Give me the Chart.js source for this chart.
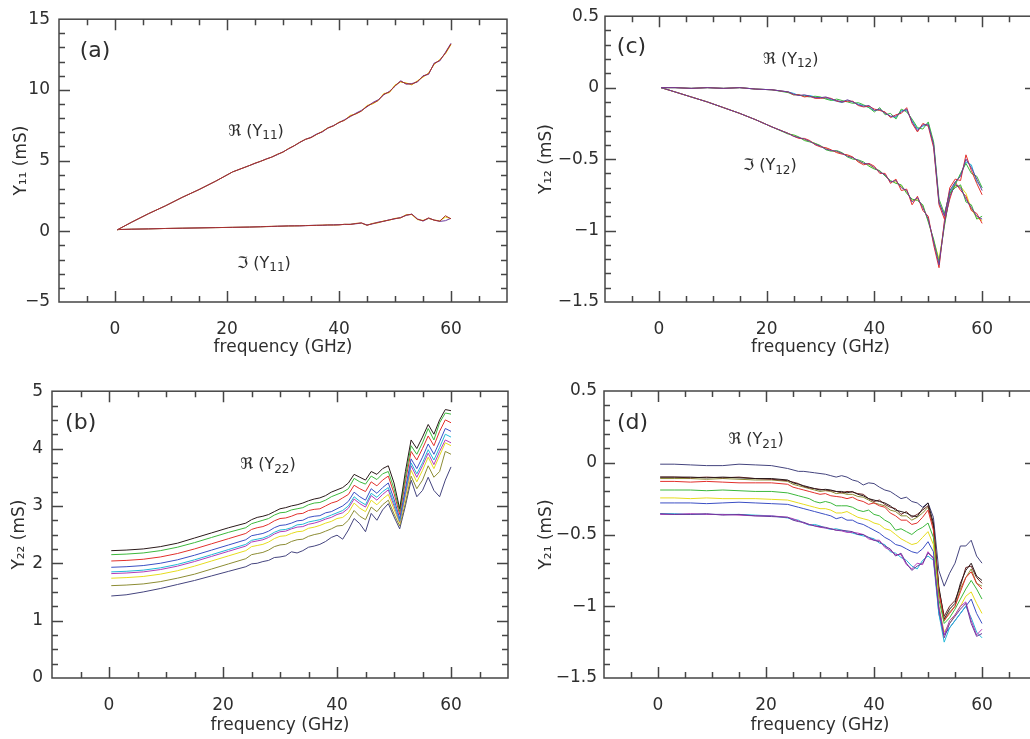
<!DOCTYPE html>
<html>
<head>
<meta charset="utf-8">
<script src="https://cdn.jsdelivr.net/npm/chart.js@4.4.1/dist/chart.umd.min.js"></script>
<style>
  html, body { margin: 0; padding: 0; background: #fff; overflow: hidden; width: 1030px; height: 739px; }
  canvas { position: absolute; }
</style>
</head>
<body>
<canvas id="chartA" width="515" height="365" style="left:0;top:0"></canvas>
<canvas id="chartC" width="530" height="365" style="left:515px;top:0"></canvas>
<canvas id="chartB" width="515" height="367" style="left:0;top:372px"></canvas>
<canvas id="chartD" width="530" height="367" style="left:515px;top:372px"></canvas>
<script>
// frequency samples (GHz), shared by every curve
const FREQ = [0.4, 3, 6, 9, 12, 15, 18, 21,
  24, 25, 26, 27, 28, 29, 30, 31, 32, 33, 34, 35, 36, 37, 38, 39,
  40, 41, 42, 43, 44, 45, 46, 47, 48, 49, 50, 51, 52, 53, 54, 55, 56, 57, 58, 59, 60];
const X_TICKS = [0, 20, 40, 60];

// (a) Y11
const a_re_red = [0.1, 0.65, 1.25, 1.8, 2.4, 2.95, 3.55, 4.2,
  4.65, 4.82, 4.95, 5.1, 5.25, 5.45, 5.6, 5.85, 6.05, 6.3, 6.5, 6.62, 6.85, 7.05, 7.3, 7.45,
  7.7, 7.85, 8.15, 8.3, 8.5, 8.85, 9.05, 9.25, 9.7, 9.85, 10.3, 10.6, 10.45, 10.4, 10.6, 10.95, 11.15, 11.85, 12.1, 12.6, 13.25];
const a_re_purple = [0.1, 0.65, 1.25, 1.8, 2.4, 2.95, 3.55, 4.2,
  4.65, 4.8, 4.95, 5.12, 5.25, 5.42, 5.62, 5.83, 6.05, 6.28, 6.5, 6.65, 6.88, 7.02, 7.3, 7.48,
  7.68, 7.9, 8.1, 8.35, 8.55, 8.8, 9.1, 9.3, 9.65, 9.9, 10.25, 10.65, 10.4, 10.45, 10.55, 11.0, 11.1, 11.9, 12.05, 12.65, 13.3];
const a_re_yellow = [0.1, 0.65, 1.25, 1.8, 2.4, 2.95, 3.55, 4.2,
  4.65, 4.81, 4.95, 5.11, 5.25, 5.44, 5.6, 5.86, 6.05, 6.29, 6.5, 6.64, 6.85, 7.06, 7.32, 7.46,
  7.72, 7.85, 8.2, 8.3, 8.5, 8.9, 9.0, 9.25, 9.75, 9.8, 10.35, 10.55, 10.5, 10.35, 10.65, 10.9, 11.2, 11.8, 12.15, 12.55, 13.2];
const a_im_red = [0.12, 0.15, 0.17, 0.2, 0.22, 0.24, 0.26, 0.28,
  0.3, 0.31, 0.32, 0.34, 0.35, 0.36, 0.37, 0.38, 0.38, 0.39, 0.4, 0.41, 0.42, 0.44, 0.45, 0.44,
  0.45, 0.5, 0.48, 0.55, 0.6, 0.42, 0.55, 0.62, 0.72, 0.8, 0.9, 0.95, 1.15, 1.2, 0.85, 0.75, 0.95, 0.78, 0.72, 1.1, 0.88];
const a_im_purple = [0.12, 0.15, 0.17, 0.2, 0.22, 0.24, 0.26, 0.28,
  0.3, 0.31, 0.32, 0.33, 0.34, 0.36, 0.37, 0.38, 0.39, 0.38, 0.4, 0.42, 0.43, 0.42, 0.44, 0.46,
  0.47, 0.48, 0.5, 0.53, 0.58, 0.45, 0.52, 0.65, 0.7, 0.82, 0.88, 0.98, 1.12, 1.22, 0.88, 0.72, 0.92, 0.8, 0.7, 0.75, 0.92];
const a_im_yellow = [0.12, 0.15, 0.17, 0.2, 0.22, 0.24, 0.26, 0.28,
  0.3, 0.31, 0.32, 0.33, 0.35, 0.35, 0.36, 0.38, 0.38, 0.4, 0.41, 0.41, 0.42, 0.43, 0.45, 0.45,
  0.46, 0.49, 0.49, 0.56, 0.57, 0.44, 0.56, 0.6, 0.74, 0.78, 0.92, 0.94, 1.18, 1.18, 0.83, 0.77, 0.9, 0.8, 0.74, 1.0, 0.9];

// (c) Y12
const c_re_purple = [0, 0, -0.005, 0, -0.005, 0, -0.01, -0.015,
  -0.03, -0.045, -0.055, -0.05, -0.06, -0.07, -0.07, -0.065, -0.08, -0.09, -0.1, -0.085, -0.1, -0.12, -0.13, -0.125,
  -0.16, -0.15, -0.18, -0.2, -0.2, -0.17, -0.15, -0.24, -0.3, -0.26, -0.26, -0.4, -0.8, -0.9, -0.72, -0.66, -0.62, -0.5, -0.56, -0.64, -0.72];
const c_re_cyan = [0, 0, -0.005, 0, -0.005, 0, -0.01, -0.015,
  -0.03, -0.04, -0.055, -0.055, -0.055, -0.065, -0.07, -0.075, -0.085, -0.095, -0.105, -0.09, -0.1, -0.115, -0.125, -0.14,
  -0.16, -0.155, -0.175, -0.2, -0.21, -0.16, -0.16, -0.23, -0.29, -0.27, -0.25, -0.4, -0.81, -0.89, -0.73, -0.67, -0.61, -0.52, -0.54, -0.66, -0.7];
const c_re_green = [0, 0, -0.005, 0, -0.005, 0, -0.01, -0.015,
  -0.035, -0.05, -0.05, -0.06, -0.065, -0.06, -0.065, -0.08, -0.09, -0.08, -0.09, -0.1, -0.11, -0.105, -0.12, -0.14,
  -0.17, -0.14, -0.19, -0.18, -0.22, -0.15, -0.17, -0.22, -0.28, -0.29, -0.24, -0.38, -0.78, -0.88, -0.74, -0.68, -0.6, -0.53, -0.6, -0.62, -0.7];
const c_re_red = [0, 0, -0.005, 0, -0.005, 0, -0.01, -0.015,
  -0.03, -0.05, -0.05, -0.065, -0.06, -0.075, -0.075, -0.07, -0.075, -0.095, -0.1, -0.095, -0.095, -0.125, -0.135, -0.13,
  -0.15, -0.16, -0.17, -0.21, -0.19, -0.18, -0.14, -0.25, -0.31, -0.25, -0.27, -0.42, -0.82, -0.92, -0.7, -0.64, -0.65, -0.47, -0.58, -0.67, -0.75];
const c_im_purple = [0, -0.03, -0.065, -0.1, -0.14, -0.18, -0.225, -0.275,
  -0.32, -0.34, -0.35, -0.36, -0.375, -0.395, -0.41, -0.43, -0.44, -0.445, -0.46, -0.48, -0.49, -0.51, -0.53, -0.535,
  -0.56, -0.59, -0.61, -0.66, -0.65, -0.7, -0.72, -0.8, -0.77, -0.84, -0.92, -1.08, -1.24, -0.95, -0.76, -0.68, -0.7, -0.78, -0.84, -0.9, -0.92];
const c_im_yellow = [0, -0.03, -0.065, -0.1, -0.14, -0.18, -0.225, -0.275,
  -0.32, -0.335, -0.35, -0.365, -0.375, -0.39, -0.41, -0.425, -0.44, -0.45, -0.46, -0.475, -0.49, -0.515, -0.53, -0.54,
  -0.565, -0.585, -0.615, -0.655, -0.66, -0.69, -0.73, -0.79, -0.78, -0.83, -0.93, -1.07, -1.2, -0.96, -0.75, -0.69, -0.69, -0.74, -0.85, -0.91, -0.93];
const c_im_green = [0, -0.03, -0.065, -0.1, -0.14, -0.18, -0.225, -0.275,
  -0.325, -0.33, -0.345, -0.37, -0.38, -0.39, -0.405, -0.435, -0.445, -0.44, -0.455, -0.485, -0.5, -0.505, -0.52, -0.55,
  -0.57, -0.58, -0.62, -0.65, -0.67, -0.68, -0.74, -0.78, -0.79, -0.82, -0.94, -1.06, -1.22, -0.97, -0.74, -0.7, -0.68, -0.8, -0.82, -0.92, -0.9];
const c_im_red = [0, -0.03, -0.065, -0.1, -0.14, -0.18, -0.225, -0.275,
  -0.32, -0.34, -0.355, -0.355, -0.37, -0.4, -0.415, -0.42, -0.435, -0.455, -0.465, -0.47, -0.485, -0.52, -0.54, -0.53,
  -0.55, -0.6, -0.6, -0.67, -0.64, -0.72, -0.71, -0.82, -0.76, -0.86, -0.9, -1.1, -1.26, -0.93, -0.78, -0.66, -0.72, -0.76, -0.86, -0.88, -0.95];

// (b) Re(Y22), top to bottom
const b_black = [2.22, 2.23, 2.25, 2.29, 2.35, 2.44, 2.53, 2.62,
  2.7, 2.76, 2.8, 2.82, 2.85, 2.9, 2.95, 2.97, 3.0, 3.02, 3.05, 3.09, 3.12, 3.14, 3.18, 3.24,
  3.28, 3.32, 3.4, 3.55, 3.5, 3.45, 3.6, 3.55, 3.65, 3.7, 3.4, 2.95, 3.6, 4.15, 4.0, 4.2, 4.42, 4.25, 4.5, 4.68, 4.66];
const b_green = [2.15, 2.16, 2.18, 2.22, 2.28, 2.36, 2.45, 2.54,
  2.62, 2.69, 2.72, 2.75, 2.78, 2.84, 2.88, 2.89, 2.93, 2.95, 2.97, 3.02, 3.05, 3.06, 3.1, 3.16,
  3.2, 3.24, 3.3, 3.48, 3.42, 3.38, 3.52, 3.46, 3.56, 3.6, 3.3, 2.9, 3.5, 4.05, 3.9, 4.1, 4.35, 4.15, 4.45, 4.62, 4.6];
const b_red = [2.04, 2.05, 2.07, 2.11, 2.17, 2.25, 2.34, 2.43,
  2.52, 2.59, 2.62, 2.64, 2.68, 2.74, 2.78, 2.79, 2.82, 2.86, 2.87, 2.92, 2.94, 2.95, 3.0, 3.05,
  3.08, 3.14, 3.2, 3.36, 3.3, 3.25, 3.42, 3.35, 3.45, 3.52, 3.22, 2.85, 3.42, 3.95, 3.8, 4.0, 4.22, 4.05, 4.3, 4.5, 4.45];
const b_blue = [1.93, 1.94, 1.96, 2.0, 2.06, 2.14, 2.23, 2.32,
  2.41, 2.48, 2.5, 2.52, 2.56, 2.62, 2.66, 2.67, 2.7, 2.74, 2.75, 2.8, 2.82, 2.83, 2.88, 2.9,
  2.95, 3.0, 3.08, 3.24, 3.16, 3.1, 3.3, 3.22, 3.32, 3.4, 3.12, 2.78, 3.3, 3.82, 3.65, 3.85, 4.08, 3.9, 4.12, 4.35, 4.3];
const b_cyan = [1.85, 1.86, 1.88, 1.92, 1.98, 2.06, 2.15, 2.24,
  2.33, 2.4, 2.42, 2.44, 2.48, 2.54, 2.58, 2.59, 2.62, 2.67, 2.68, 2.72, 2.74, 2.76, 2.8, 2.84,
  2.88, 2.92, 3.0, 3.16, 3.08, 3.02, 3.22, 3.15, 3.25, 3.32, 3.05, 2.74, 3.25, 3.75, 3.56, 3.75, 3.98, 3.8, 4.02, 4.25, 4.2];
const b_magenta = [1.82, 1.83, 1.85, 1.89, 1.95, 2.03, 2.12, 2.21,
  2.3, 2.37, 2.39, 2.41, 2.45, 2.51, 2.55, 2.56, 2.6, 2.63, 2.64, 2.68, 2.7, 2.73, 2.77, 2.8,
  2.85, 2.88, 2.96, 3.12, 3.04, 2.98, 3.18, 3.1, 3.2, 3.28, 3.0, 2.72, 3.2, 3.7, 3.5, 3.7, 3.92, 3.72, 3.95, 4.15, 4.1];
const b_yellow = [1.74, 1.75, 1.77, 1.81, 1.87, 1.95, 2.04, 2.13,
  2.22, 2.29, 2.31, 2.33, 2.37, 2.43, 2.47, 2.48, 2.52, 2.55, 2.56, 2.61, 2.63, 2.66, 2.7, 2.73,
  2.78, 2.8, 2.88, 3.05, 2.96, 2.9, 3.1, 3.02, 3.12, 3.2, 2.94, 2.7, 3.15, 3.62, 3.42, 3.62, 3.85, 3.65, 3.88, 4.1, 4.05];
const b_olive = [1.61, 1.62, 1.64, 1.68, 1.74, 1.81, 1.9, 1.99,
  2.08, 2.15, 2.17, 2.19, 2.23, 2.29, 2.32, 2.33, 2.38, 2.41, 2.42, 2.47, 2.5, 2.52, 2.56, 2.6,
  2.65, 2.66, 2.75, 2.92, 2.82, 2.76, 2.98, 2.9, 3.02, 3.1, 2.86, 2.65, 3.05, 3.52, 3.3, 3.45, 3.7, 3.5, 3.6, 3.95, 3.9];
const b_navy = [1.43, 1.45, 1.5, 1.56, 1.63, 1.7, 1.78, 1.86,
  1.94, 1.99, 2.0, 2.03, 2.05, 2.1, 2.11, 2.13, 2.2, 2.18, 2.22, 2.28, 2.3, 2.33, 2.38, 2.45,
  2.49, 2.42, 2.58, 2.78, 2.69, 2.55, 2.87, 2.75, 2.93, 3.04, 2.81, 2.6, 3.0, 3.45, 3.16, 3.27, 3.5, 3.27, 3.16, 3.45, 3.68];

// (d) Re(Y21), top to bottom
const d_navy = [-0.01, -0.01, -0.015, -0.02, -0.02, -0.01, -0.015, -0.02,
  -0.04, -0.05, -0.06, -0.06, -0.065, -0.07, -0.075, -0.08, -0.09, -0.1, -0.09, -0.1, -0.12, -0.13, -0.155, -0.14,
  -0.145, -0.17, -0.19, -0.2, -0.225, -0.25, -0.24, -0.27, -0.28, -0.31, -0.28, -0.38, -0.75, -0.86, -0.77, -0.7, -0.58, -0.58, -0.54, -0.65, -0.7];
const d_black = [-0.1, -0.1, -0.1, -0.105, -0.1, -0.105, -0.11, -0.11,
  -0.12, -0.14, -0.15, -0.16, -0.17, -0.18, -0.19, -0.185, -0.19, -0.2, -0.2, -0.21, -0.2, -0.22, -0.23, -0.25,
  -0.26, -0.27, -0.28, -0.3, -0.33, -0.34, -0.35, -0.37, -0.375, -0.32, -0.28, -0.42, -0.86, -1.09, -1.02, -0.98, -0.84, -0.75, -0.7, -0.79, -0.82];
const d_brown = [-0.1, -0.1, -0.105, -0.1, -0.105, -0.1, -0.11, -0.115,
  -0.125, -0.135, -0.145, -0.165, -0.175, -0.18, -0.185, -0.19, -0.195, -0.2, -0.21, -0.2, -0.205, -0.215, -0.22, -0.25,
  -0.27, -0.26, -0.29, -0.31, -0.32, -0.36, -0.34, -0.38, -0.36, -0.33, -0.3, -0.44, -0.88, -1.07, -1.0, -0.96, -0.86, -0.73, -0.72, -0.8, -0.84];
const d_olive = [-0.11, -0.11, -0.11, -0.115, -0.11, -0.115, -0.12, -0.12,
  -0.13, -0.15, -0.16, -0.17, -0.18, -0.19, -0.2, -0.195, -0.2, -0.215, -0.21, -0.22, -0.22, -0.235, -0.24, -0.26,
  -0.28, -0.29, -0.3, -0.33, -0.34, -0.37, -0.37, -0.4, -0.38, -0.35, -0.31, -0.45, -0.9, -1.1, -1.04, -1.0, -0.88, -0.8, -0.74, -0.84, -0.86];
const d_red = [-0.13, -0.13, -0.135, -0.13, -0.135, -0.14, -0.14, -0.14,
  -0.15, -0.17, -0.18, -0.19, -0.2, -0.21, -0.22, -0.215, -0.23, -0.235, -0.24, -0.25, -0.24, -0.26, -0.27, -0.29,
  -0.28, -0.3, -0.31, -0.35, -0.37, -0.4, -0.4, -0.43, -0.42, -0.38, -0.33, -0.47, -0.9, -1.1, -1.05, -1.0, -0.9, -0.8, -0.76, -0.84, -0.88];
const d_green = [-0.19, -0.19, -0.19, -0.195, -0.19, -0.195, -0.2, -0.2,
  -0.21, -0.22, -0.23, -0.24, -0.25, -0.27, -0.28, -0.27, -0.28, -0.3, -0.3, -0.3, -0.31, -0.33, -0.34, -0.33,
  -0.36, -0.37, -0.4, -0.42, -0.47, -0.46, -0.48, -0.5, -0.47, -0.45, -0.42, -0.52, -0.95, -1.12, -1.08, -1.02, -0.95, -0.88, -0.82, -0.88, -0.95];
const d_yellow = [-0.245, -0.245, -0.25, -0.245, -0.25, -0.25, -0.25, -0.255,
  -0.26, -0.27, -0.28, -0.29, -0.3, -0.31, -0.32, -0.32, -0.33, -0.35, -0.35, -0.34, -0.36, -0.38, -0.39, -0.4,
  -0.42, -0.43, -0.46, -0.47, -0.5, -0.53, -0.55, -0.57, -0.56, -0.52, -0.48, -0.57, -1.0, -1.18, -1.12, -1.06, -1.0, -0.93, -0.9, -0.98, -1.05];
const d_blue = [-0.28, -0.28, -0.28, -0.285, -0.28, -0.275, -0.28, -0.285,
  -0.29, -0.3, -0.31, -0.32, -0.33, -0.34, -0.35, -0.36, -0.37, -0.39, -0.38, -0.4, -0.4, -0.42, -0.43, -0.45,
  -0.47, -0.49, -0.52, -0.54, -0.57, -0.58, -0.6, -0.62, -0.63, -0.6, -0.55, -0.62, -1.05, -1.2, -1.15, -1.1, -1.05, -1.0, -0.95, -1.05, -1.12];
const d_cyan = [-0.355, -0.355, -0.36, -0.36, -0.36, -0.36, -0.365, -0.37,
  -0.385, -0.395, -0.4, -0.42, -0.435, -0.43, -0.44, -0.455, -0.465, -0.46, -0.47, -0.48, -0.49, -0.5, -0.51, -0.52,
  -0.53, -0.56, -0.57, -0.62, -0.63, -0.66, -0.68, -0.72, -0.74, -0.68, -0.65, -0.68, -1.05, -1.25, -1.15, -1.1, -1.05, -1.0, -1.08, -1.18, -1.22];
const d_magenta = [-0.36, -0.36, -0.355, -0.36, -0.36, -0.365, -0.37, -0.37,
  -0.38, -0.39, -0.405, -0.42, -0.43, -0.44, -0.45, -0.455, -0.46, -0.47, -0.475, -0.485, -0.485, -0.49, -0.5, -0.53,
  -0.54, -0.54, -0.59, -0.61, -0.64, -0.64, -0.71, -0.74, -0.7, -0.71, -0.62, -0.67, -1.0, -1.2, -1.1, -1.06, -1.0, -0.97, -1.1, -1.2, -1.16];
const d_purple = [-0.355, -0.36, -0.36, -0.355, -0.365, -0.36, -0.37, -0.375,
  -0.38, -0.4, -0.41, -0.415, -0.43, -0.44, -0.445, -0.45, -0.46, -0.47, -0.47, -0.475, -0.48, -0.5, -0.5, -0.52,
  -0.54, -0.55, -0.58, -0.6, -0.65, -0.63, -0.7, -0.75, -0.72, -0.7, -0.63, -0.66, -1.02, -1.22, -1.12, -1.07, -1.02, -0.98, -1.12, -1.21, -1.19];

const COL = {
  black: '#2a1a1a', brown: '#6b2222', green: '#3cb83c', red: '#e2302c', darkred: '#a8302c', blue: '#3b4fc4',
  cyan: '#22b8d8', magenta: '#b23cb8', purple: '#6a3a9c', yellow: '#e6dc1e', olive: '#8c8c34', navy: '#44447e'
};
const TEXT = '#2e2e2e';
const FONT = '"DejaVu Sans", sans-serif';

Chart.defaults.font.family = FONT;
Chart.defaults.font.size = 17;
Chart.defaults.color = TEXT;

const fmt = v => String(Math.round(v * 100) / 100).replace('-', '\u2212');

function drawNote(ctx, x, y, parts, size) {
  let cx = x;
  parts.forEach(([t, sub]) => {
    const fs = sub ? Math.round(size * 0.72) : size;
    ctx.font = fs + 'px ' + FONT;
    ctx.fillText(t, cx, sub ? y + size * 0.28 : y);
    cx += ctx.measureText(t).width;
  });
}

// series listed top-most first: Chart.js paints dataset 0 last
function makePanel(id, cfg) {
  const datasets = cfg.series.map(([vals, color]) => ({
    data: FREQ.map((f, i) => ({ x: f, y: vals[i] })),
    borderColor: color, borderWidth: 1, pointRadius: 0, tension: 0, fill: false
  }));

  const frame = {
    id: 'frame',
    afterDatasetsDraw(chart) {
      const { ctx, chartArea: a, scales: { x, y } } = chart;
      ctx.save();
      ctx.strokeStyle = '#454545';
      ctx.lineWidth = 1.5;
      ctx.beginPath();
      for (let v = -5; v < 70; v += 5) {
        const px = Math.round(x.getPixelForValue(v)) + 0.5;
        const len = v % 20 === 0 ? 11 : 6;
        ctx.moveTo(px, a.bottom); ctx.lineTo(px, a.bottom - len);
        ctx.moveTo(px, a.top); ctx.lineTo(px, a.top + len);
      }
      const n = Math.round((cfg.ymax - cfg.ymin) / cfg.minor);
      for (let k = 1; k < n; k++) {
        const v = cfg.ymin + k * cfg.minor;
        const r = v / cfg.major;
        const len = Math.abs(r - Math.round(r)) < 1e-6 ? 11 : 6;
        const py = Math.round(y.getPixelForValue(v)) + 0.5;
        ctx.moveTo(a.left, py); ctx.lineTo(a.left + len, py);
        ctx.moveTo(a.right, py); ctx.lineTo(a.right - len, py);
      }
      ctx.stroke();
      ctx.strokeRect(a.left, a.top, a.right - a.left, a.bottom - a.top);

      ctx.fillStyle = TEXT;
      ctx.textBaseline = 'middle';
      ctx.textAlign = 'left';
      cfg.notes.forEach(nt => {
        drawNote(ctx, x.getPixelForValue(nt.x), y.getPixelForValue(nt.y), nt.parts, nt.size);
      });
      ctx.restore();
    }
  };

  new Chart(document.getElementById(id), {
    type: 'line',
    data: { datasets },
    options: {
      responsive: false,
      animation: false,
      layout: { padding: { left: 0, top: cfg.padTop, right: cfg.padRight, bottom: 0 } },
      plugins: { legend: { display: false }, tooltip: { enabled: false } },
      scales: {
        x: {
          type: 'linear', min: -10, max: 70,
          grid: { display: false, drawTicks: false }, border: { display: false },
          afterBuildTicks: s => { s.ticks = X_TICKS.map(v => ({ value: v })); },
          afterFit: s => { s.height = cfg.xh; },
          ticks: { padding: 17, maxRotation: 0, autoSkip: false, color: TEXT, callback: v => fmt(v) },
          title: { display: true, text: 'frequency (GHz)', color: TEXT, font: { size: 17 }, padding: { top: 0, bottom: cfg.xtPad } }
        },
        y: {
          type: 'linear', min: cfg.ymin, max: cfg.ymax,
          grid: { display: false, drawTicks: false }, border: { display: false },
          afterBuildTicks: s => { s.ticks = cfg.yTicks.map(v => ({ value: v })); },
          afterFit: s => { s.width = cfg.yw; },
          ticks: { padding: cfg.ylPad, autoSkip: false, color: TEXT, callback: v => fmt(v) },
          title: { display: true, text: cfg.yTitle, color: TEXT, font: { size: 17 }, padding: { top: cfg.ytPad, bottom: 0 } }
        }
      }
    },
    plugins: [frame]
  });
}

makePanel('chartA', {
  series: [[a_re_red, COL.darkred], [a_re_purple, COL.purple], [a_re_yellow, COL.yellow],
           [a_im_red, COL.darkred], [a_im_purple, COL.purple], [a_im_yellow, COL.yellow]],
  ymin: -5, ymax: 15, major: 5, minor: 1, yTicks: [-5, 0, 5, 10, 15],
  yTitle: 'Y\u2081\u2081 (mS)',
  padTop: 13, padRight: 8, xh: 63, yw: 59, xtPad: 7, ytPad: 11, ylPad: 9,
  notes: [
    { x: -6.3, y: 12.7, size: 22, parts: [['(a)']] },
    { x: 20.2, y: 7.05, size: 16, parts: [['\u211C (Y'], ['11', true], [')']] },
    { x: 21.8, y: -2.3, size: 16, parts: [['\u2111 (Y'], ['11', true], [')']] }
  ]
});

makePanel('chartC', {
  series: [[c_re_purple, COL.purple], [c_re_red, COL.red], [c_re_green, COL.green], [c_re_cyan, COL.cyan],
           [c_im_purple, COL.purple], [c_im_red, COL.red], [c_im_green, COL.green], [c_im_yellow, COL.yellow]],
  ymin: -1.5, ymax: 0.5, major: 0.5, minor: 0.1, yTicks: [-1.5, -1, -0.5, 0, 0.5],
  yTitle: 'Y\u2081\u2082 (mS)',
  padTop: 14, padRight: 9, xh: 63, yw: 90, xtPad: 7, ytPad: 21, ylPad: 6,
  notes: [
    { x: -7.8, y: 0.285, size: 22, parts: [['(c)']] },
    { x: 19.3, y: 0.195, size: 16, parts: [['\u211C (Y'], ['12', true], [')']] },
    { x: 15.6, y: -0.55, size: 16, parts: [['\u2111 (Y'], ['12', true], [')']] }
  ]
});

makePanel('chartB', {
  series: [[b_black, COL.black], [b_green, COL.green], [b_red, COL.red], [b_blue, COL.blue], [b_cyan, COL.cyan],
           [b_magenta, COL.magenta], [b_yellow, COL.yellow], [b_olive, COL.olive], [b_navy, COL.navy]],
  ymin: 0, ymax: 5, major: 1, minor: 0.25, yTicks: [0, 1, 2, 3, 4, 5],
  yTitle: 'Y\u2082\u2082 (mS)',
  padTop: 19, padRight: 7, xh: 61, yw: 52, xtPad: 3, ytPad: 9, ylPad: 9,
  notes: [
    { x: -7.7, y: 4.44, size: 22, parts: [['(b)']] },
    { x: 23.0, y: 3.71, size: 16, parts: [['\u211C (Y'], ['22', true], [')']] }
  ]
});

makePanel('chartD', {
  series: [[d_purple, COL.purple], [d_magenta, COL.magenta], [d_cyan, COL.cyan], [d_blue, COL.blue], [d_yellow, COL.yellow],
           [d_green, COL.green], [d_red, COL.red], [d_black, COL.black], [d_brown, COL.brown], [d_olive, COL.olive], [d_navy, COL.navy]],
  ymin: -1.5, ymax: 0.5, major: 0.5, minor: 0.1, yTicks: [-1.5, -1, -0.5, 0, 0.5],
  yTitle: 'Y\u2082\u2081 (mS)',
  padTop: 19, padRight: 9, xh: 61, yw: 89, xtPad: 3, ytPad: 21, ylPad: 7,
  notes: [
    { x: -7.6, y: 0.275, size: 22, parts: [['(d)']] },
    { x: 13.0, y: 0.157, size: 16, parts: [['\u211C (Y'], ['21', true], [')']] }
  ]
});
</script>
</body>
</html>
